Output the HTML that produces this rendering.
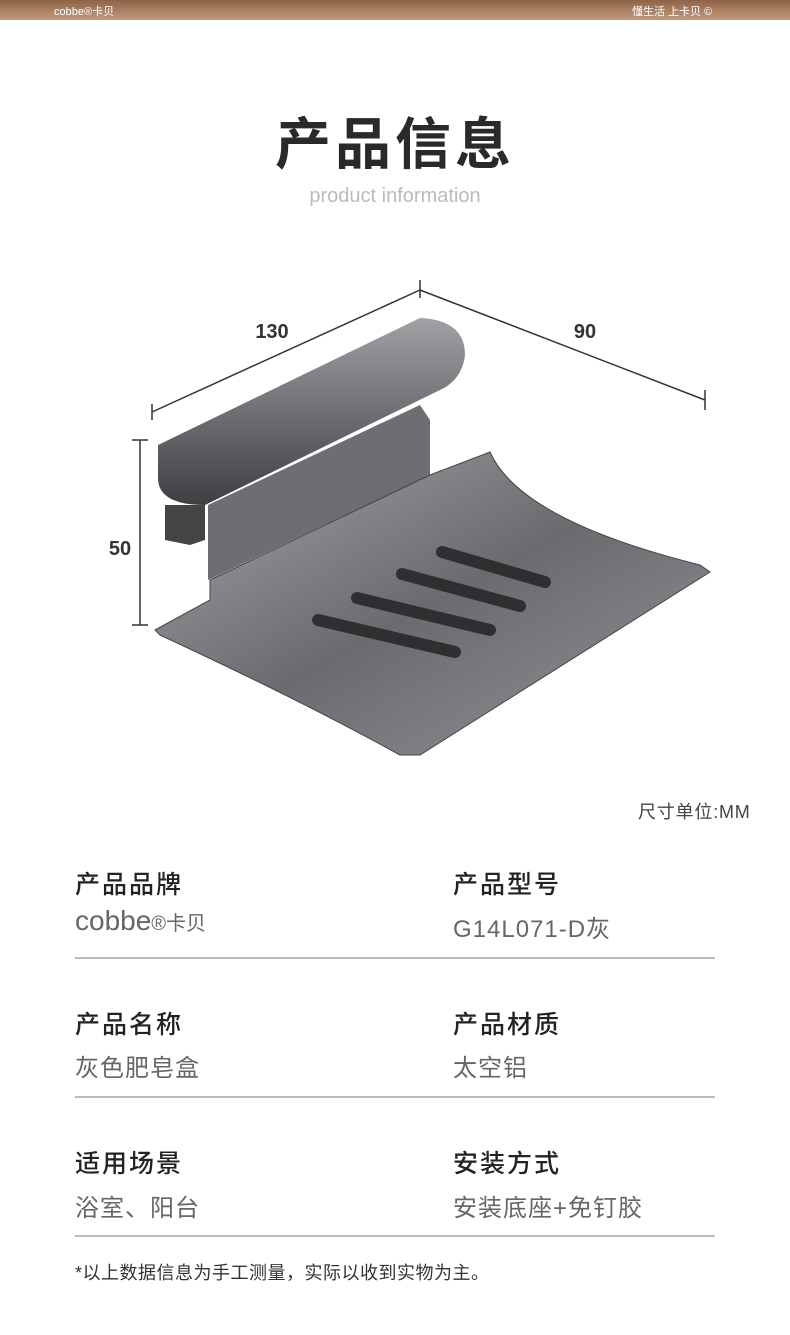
<!DOCTYPE html>
<html><head><meta charset="utf-8"><style>
body{margin:0;width:790px;height:1335px;background:#fff;position:relative;overflow:hidden;font-family:"Liberation Sans","Noto Sans CJK SC",sans-serif}
.bar{position:absolute;left:0;top:0;width:790px;height:20px;background:linear-gradient(#8e6448,#c49a7c);color:#fff;font-size:11px}
.a{position:absolute;white-space:nowrap}
.l{font-size:25px;color:#222;font-weight:500;letter-spacing:2px}
.v{font-size:24px;color:#666;letter-spacing:1px}
.hr{position:absolute;left:75px;width:640px;height:2px;background:#bbb}
</style></head><body>
<div class="bar"><span class="a" style="left:54px;top:3px">cobbe®卡贝</span><span class="a" style="left:632px;top:3px">懂生活 上卡贝 ©</span></div>
<div class="a" style="left:0;width:790px;text-align:center;top:100px;font-size:56px;font-weight:bold;color:#2a2a2a;letter-spacing:4px">产品信息</div>
<div class="a" style="left:0;width:790px;text-align:center;top:185px;font-size:20px;color:#bbb">product information</div>
<svg class="a" style="left:0;top:270px" width="790" height="500" viewBox="0 270 790 500">
<defs><linearGradient id="g1" x1="0" y1="0" x2="1" y2="1"><stop offset="0" stop-color="#a5a6a9"/><stop offset=".5" stop-color="#6a6b6e"/><stop offset="1" stop-color="#959699"/></linearGradient>
<linearGradient id="g2" x1="0" y1="0" x2="0" y2="1"><stop offset="0" stop-color="#a0a1a4"/><stop offset="1" stop-color="#3e3f42"/></linearGradient></defs>
<g stroke="#333" stroke-width="1.5" fill="none">
<line x1="152" y1="412" x2="420" y2="290"/><line x1="152" y1="404" x2="152" y2="420"/><line x1="420" y1="280" x2="420" y2="298"/>
<line x1="420" y1="290" x2="705" y2="400"/><line x1="705" y1="390" x2="705" y2="410"/>
<line x1="140" y1="440" x2="140" y2="625"/><line x1="132" y1="440" x2="148" y2="440"/><line x1="132" y1="625" x2="148" y2="625"/>
</g>
<text x="272" y="338" font-size="20" font-weight="bold" fill="#333" text-anchor="middle" font-family="Liberation Sans">130</text>
<text x="585" y="338" font-size="20" font-weight="bold" fill="#333" text-anchor="middle" font-family="Liberation Sans">90</text>
<text x="120" y="555" font-size="20" font-weight="bold" fill="#333" text-anchor="middle" font-family="Liberation Sans">50</text>
<path d="M208 505 L420 405 L430 420 L430 475 L208 580 Z" fill="#6d6e71"/>
<path d="M155 630 L210 600 L210 580 L430 475 L490 452 Q520 520 700 565 L710 572 L420 755 L400 755 Q300 700 160 635 Z" fill="url(#g1)" stroke="#444"/>
<path d="M165 505 L165 540 L190 545 L205 540 L205 505 Z" fill="#444"/>
<path d="M158 445 L420 318 Q465 320 465 355 Q462 380 440 390 L205 505 Q160 505 158 480 Z" fill="url(#g2)"/>
<g stroke="#2e2f31" stroke-width="12" stroke-linecap="round"><line x1="318" y1="620" x2="455" y2="652"/><line x1="357" y1="598" x2="490" y2="630"/><line x1="402" y1="574" x2="520" y2="606"/><line x1="442" y1="552" x2="545" y2="582"/></g>
</svg>
<div class="a" style="left:638px;top:798px;font-size:18px;color:#444;letter-spacing:0.8px">尺寸单位:MM</div>
<div class="a l" style="left:75px;top:865px">产品品牌</div><div class="a l" style="left:453px;top:865px">产品型号</div>
<div class="a" style="left:75px;top:905px;font-size:28px;color:#666">cobbe<span style="font-size:20px">®卡贝</span></div><div class="a v" style="left:453px;top:909px">G14L071-D灰</div>
<div class="hr" style="top:957px"></div>
<div class="a l" style="left:75px;top:1005px">产品名称</div><div class="a l" style="left:453px;top:1005px">产品材质</div>
<div class="a v" style="left:75px;top:1048px">灰色肥皂盒</div><div class="a v" style="left:453px;top:1048px">太空铝</div>
<div class="hr" style="top:1096px"></div>
<div class="a l" style="left:75px;top:1144px">适用场景</div><div class="a l" style="left:453px;top:1144px">安装方式</div>
<div class="a v" style="left:75px;top:1188px">浴室、阳台</div><div class="a v" style="left:453px;top:1188px">安装底座+免钉胶</div>
<div class="hr" style="top:1235px"></div>
<div class="a" style="left:75px;top:1259px;font-size:18px;color:#333;letter-spacing:0.5px">*以上数据信息为手工测量，实际以收到实物为主。</div>
</body></html>
